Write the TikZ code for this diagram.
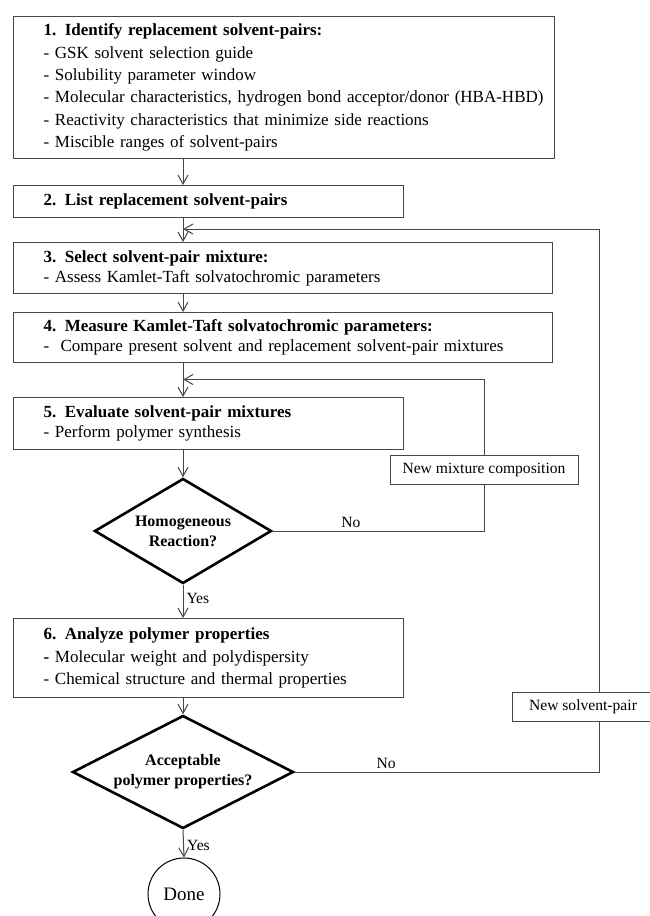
\documentclass[tikz,border=0pt]{standalone}
\usepackage{fontspec}
\setmainfont{Liberation Serif}
\usetikzlibrary{shapes.geometric,arrows.meta}
\begin{document}
\begin{tikzpicture}[x=1pt,y=-1pt,>={Straight Barb[length=9pt,width=10pt]},
        stepbox/.style={draw=black!72,line width=1.2pt,rectangle,inner xsep=0pt,inner ysep=0pt,anchor=north west,align=left,execute at begin node={\leftskip=30.5pt},font=\fontsize{17}{22.4}\selectfont},
        tightbox/.style={stepbox,font=\fontsize{17}{20}\selectfont},
        decision/.style={diamond,draw,line width=2.6pt,inner sep=0pt,align=center,font=\bfseries\fontsize{16}{20}\selectfont},
        notebox/.style={draw=black!72,line width=1pt,fill=white,inner sep=0pt,font=\fontsize{15.6}{18}\selectfont},
        link/.style={draw=black!72,line width=1pt},
        lbl/.style={font=\fontsize{15.6}{18}\selectfont,inner sep=3pt}]
        \useasboundingbox(0,0)rectangle(649,916);
        \node[stepbox,text width=541.5pt,minimum height=142pt](identify)at(12.5,16){\textbf{1. Identify replacement solvent-pairs:}\\- GSK solvent selection guide\\- Solubility parameter window\\- Molecular characteristics, hydrogen bond acceptor/donor (HBA-HBD)\\- Reactivity characteristics that minimize side reactions\\- Miscible ranges of solvent-pairs};
        \node[stepbox,text width=390.5pt,minimum height=32pt](list)at(12.5,185){\textbf{2. List replacement solvent-pairs}};
        \node[tightbox,text width=539.5pt,minimum height=51pt](select)at(12.5,242){\textbf{3. Select solvent-pair mixture:}\\- Assess Kamlet-Taft solvatochromic parameters};
        \node[tightbox,text width=539.5pt,minimum height=50pt](measure)at(12.5,312){\textbf{4. Measure Kamlet-Taft solvatochromic parameters:}\\-\ \ Compare present solvent and replacement solvent-pair mixtures};
        \node[tightbox,text width=390.5pt,minimum height=52pt](evaluate)at(12.5,397){\textbf{5. Evaluate solvent-pair mixtures}\\- Perform polymer synthesis};
        \node[decision,aspect=1.69,minimum width=177pt,minimum height=105pt](homog)at(183,531){Homogeneous\\Reaction?};
        \node[stepbox,text width=390.5pt,minimum height=79pt](analyze)at(12.5,618){\textbf{6. Analyze polymer properties}\\\textbf{-} Molecular weight and polydispersity\\- Chemical structure and thermal properties};
        \node[decision,aspect=1.96,minimum width=221pt,minimum height=113pt](accept)at(183,772){Acceptable\\polymer properties?};
        \node[draw,circle,line width=1pt,minimum size=72pt,inner sep=0pt,font=\fontsize{19}{20}\selectfont](done)at(184,894){Done};
        \node[notebox,minimum width=188pt,minimum height=29pt](newmix)at(484,469.5){New mixture composition};
        \node[notebox,minimum width=142pt,minimum height=29pt](newpair)at(583,706.5){New solvent-pair};
        \coordinate(mixin)at(183,379.5);
        \coordinate(pairin)at(183,229);
        \coordinate(pairtop)at(599,229);
        \coordinate(pairbot)at(599,772);
        \draw[link,->](identify.south-|homog)--(list.north-|homog);
        \draw[link,->](list.south-|homog)--(select.north-|homog);
        \draw[link,->](select.south-|homog)--(measure.north-|homog);
        \draw[link,->](measure.south-|homog)--(evaluate.north-|homog);
        \draw[link,->](evaluate.south-|homog)--(homog.north);
        \draw[link,->](homog.south)--node[lbl,right,pos=0.4]{Yes}(analyze.north-|homog);
        \draw[link,->](analyze.south-|homog)--(accept.north);
        \draw[link,->](accept.south)--node[lbl,right,pos=0.55]{Yes}(done.north);
        \draw[link](homog.east)--node[lbl,above,pos=0.37]{No}(homog.east-|newmix)--(newmix.south);
        \draw[link,->](newmix.north)--(newmix.north|-mixin)--(mixin);
        \draw[link](accept.east)--node[lbl,above,pos=0.3]{No}(pairbot)--(pairbot|-newpair.south);
        \draw[link,->](pairbot|-newpair.north)--(pairtop)--(pairin);
\end{tikzpicture}
\end{document}
